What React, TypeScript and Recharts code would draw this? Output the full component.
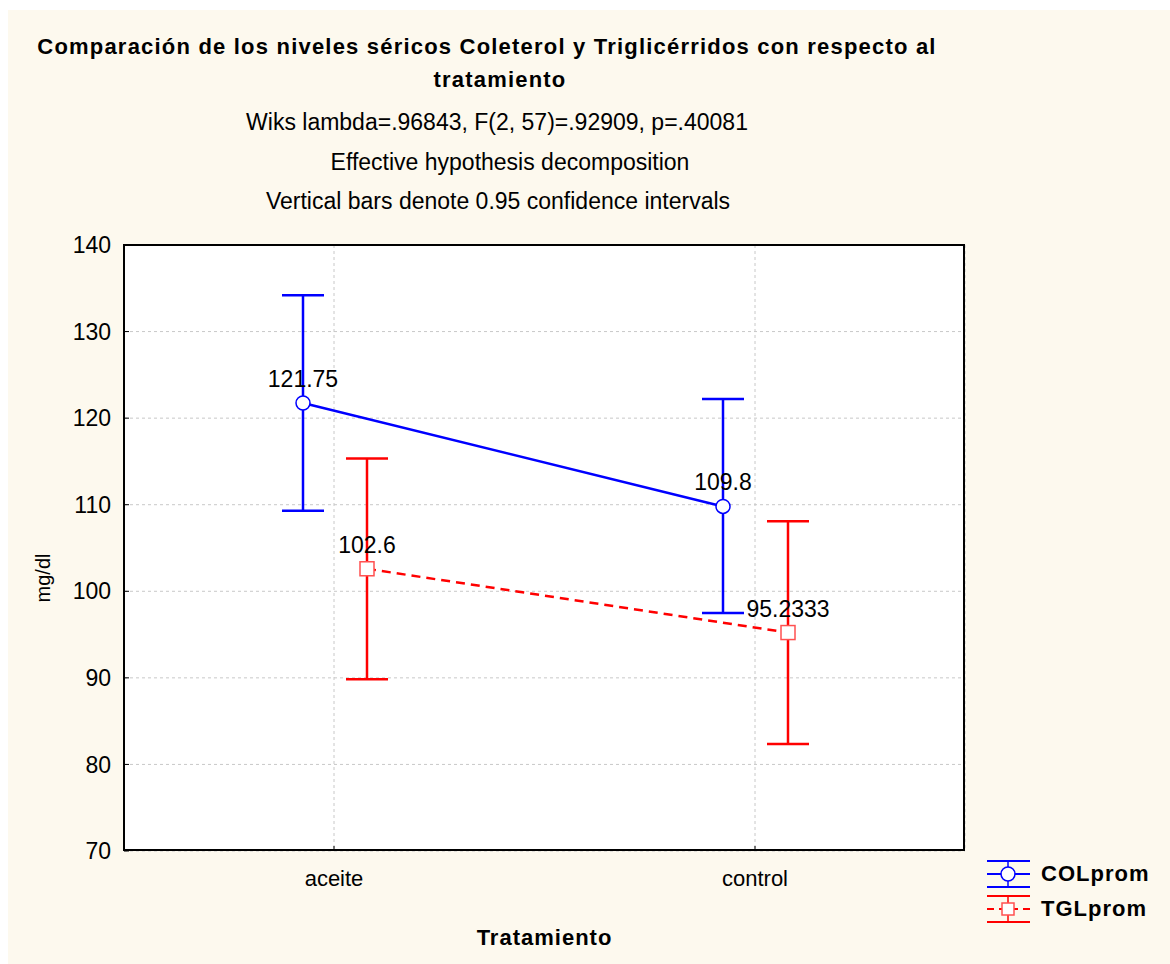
import React from 'react'
import {
  LineChart,
  Line,
  XAxis,
  YAxis,
  CartesianGrid,
  ErrorBar,
  LabelList,
} from 'recharts'

const categories = ['aceite', 'control']
const colMean = [121.75, 109.8]
const colLow = [109.3, 97.5]
const colHigh = [134.2, 122.2]
const tglMean = [102.6, 95.2333]
const tglLow = [89.85, 82.35]
const tglHigh = [115.35, 108.1]
const yTicks = [70, 80, 90, 100, 110, 120, 130, 140]

const FONT = '"Liberation Sans", Arial, sans-serif'
const BG = '#FDF9EE'
const BLUE = '#0000FF'
const RED = '#FF0000'

const chartData = categories.map((cat, i) => ({
  cat,
  col: colMean[i],
  colErr: [colMean[i] - colLow[i], colHigh[i] - colMean[i]],
  tgl: tglMean[i],
  tglErr: [tglMean[i] - tglLow[i], tglHigh[i] - tglMean[i]],
}))

// open circle marker
const CircleDot = (props: any) => {
  const { cx, cy } = props
  if (cx == null || cy == null) return null
  return <circle cx={cx} cy={cy} r={7} fill="#fff" stroke={BLUE} strokeWidth={1.5} />
}

// open square marker
const SquareDot = (props: any) => {
  const { cx, cy } = props
  if (cx == null || cy == null) return null
  return <rect x={cx - 7} y={cy - 7} width={14} height={14} fill="#fff" stroke="#FF5050" strokeWidth={1.5} />
}

// y tick: label on the left, short tick pointing into the plot
const YTick = (props: any) => {
  const { x, y, payload } = props
  return (
    <g>
      <line x1={x + 13} y1={y} x2={x + 18} y2={y} stroke="#000" strokeWidth={1} />
      <text x={x} y={y} dy="0.355em" textAnchor="end" fill="#000" fontSize={23} fontFamily={FONT}>
        {payload.value}
      </text>
    </g>
  )
}

// x tick: label below, short tick pointing up into the plot
const XTick = (props: any) => {
  const { x, y, payload } = props
  return (
    <g>
      <line x1={x} y1={y - 19} x2={x} y2={y - 24} stroke="#000" strokeWidth={1} />
      <text x={x} y={y} dy="0.71em" textAnchor="middle" fill="#000" fontSize={22} fontFamily={FONT}>
        {payload.value}
      </text>
    </g>
  )
}

const LegendBox = () => {
  const row = (color: string, dashed: boolean, square: boolean, label: string) => (
    <div style={{ display: 'flex', alignItems: 'center', height: 35 }}>
      <svg width={48} height={32} style={{ marginRight: 9 }}>
        <line x1={3} y1={3} x2={46} y2={3} stroke={color} strokeWidth={2} />
        <line x1={3} y1={29} x2={46} y2={29} stroke={color} strokeWidth={2} />
        <line x1={24} y1={3} x2={24} y2={29} stroke={color} strokeWidth={1.5} />
        <line x1={3} y1={16} x2={46} y2={16} stroke={color} strokeWidth={2} strokeDasharray={dashed ? '7 5' : undefined} />
        {square ? (
          <rect x={18} y={10} width={12} height={12} fill="#fff" stroke="#FF5050" strokeWidth={1.5} />
        ) : (
          <circle cx={24} cy={16} r={7} fill="#fff" stroke={color} strokeWidth={1.5} />
        )}
      </svg>
      <span style={{ fontFamily: FONT, fontWeight: 'bold', fontSize: 22, letterSpacing: 1 }}>{label}</span>
    </div>
  )
  return (
    <div style={{ position: 'absolute', left: 984, top: 856 }}>
      {row(BLUE, false, false, 'COLprom')}
      {row(RED, true, true, 'TGLprom')}
    </div>
  )
}

const textLine = (text: string, top: number, bold: boolean, size: number, spacing: number, center = 490) => (
  <div
    style={{
      position: 'absolute',
      top,
      left: center - 500,
      width: 1000,
      textAlign: 'center',
      fontFamily: FONT,
      fontWeight: bold ? 'bold' : 'normal',
      fontSize: size,
      lineHeight: '26px',
      letterSpacing: spacing,
      whiteSpace: 'nowrap',
      color: '#000',
    }}
  >
    {text}
  </div>
)

export default function App() {
  return (
    <div style={{ position: 'absolute', left: 0, top: 0, width: 1170, height: 964, background: '#fff' }}>
      <div style={{ position: 'absolute', left: 8, top: 10, width: 1162, height: 954, background: BG }} />
      {textLine('Comparación de los niveles séricos Coleterol y Triglicérridos con respecto al', 34, true, 22, 1.2, 487)}
      {textLine('tratamiento', 67, true, 22, 1.2, 500)}
      {textLine('Wiks lambda=.96843, F(2, 57)=.92909, p=.40081', 109, false, 23, 0, 497)}
      {textLine('Effective hypothesis decomposition', 149, false, 23, 0, 510)}
      {textLine('Vertical bars denote 0.95 confidence intervals', 188, false, 23, 0, 498)}
      <div
        style={{
          position: 'absolute',
          left: 43 - 40,
          top: 578 - 13,
          width: 80,
          height: 26,
          lineHeight: '26px',
          textAlign: 'center',
          transform: 'rotate(-90deg)',
          fontFamily: FONT,
          fontSize: 20,
          color: '#000',
        }}
      >
        mg/dl
      </div>
      <div style={{ position: 'absolute', left: 0, top: 0 }}>
        <LineChart
          width={1170}
          height={964}
          data={chartData}
          margin={{ top: 245, right: 205, left: 0, bottom: 0 }}
        >
          <CartesianGrid
            xAxisId="main"
            fill="#fff"
            stroke="#c8c8c8"
            strokeDasharray="3 3"
          />
          <XAxis
            xAxisId="main"
            dataKey="cat"
            type="category"
            scale="point"
            padding={{ left: 210, right: 210 }}
            height={113}
            axisLine={false}
            tickLine={false}
            tickSize={0}
            tickMargin={19}
            tick={<XTick />}
            label={{
              value: 'Tratamiento',
              position: 'insideBottom',
              offset: 19,
              fill: '#000',
              fontSize: 22,
              fontWeight: 'bold',
              fontFamily: FONT,
              letterSpacing: 1,
            }}
          />
          <XAxis xAxisId="col" dataKey="cat" type="category" scale="point" padding={{ left: 179, right: 242 }} height={0} hide />
          <XAxis xAxisId="tgl" dataKey="cat" type="category" scale="point" padding={{ left: 243, right: 177 }} height={0} hide />
          <YAxis
            domain={[70, 140]}
            ticks={yTicks}
            type="number"
            width={124}
            allowDataOverflow
            axisLine={false}
            tickLine={false}
            tickSize={0}
            tickMargin={13}
            tick={<YTick />}
          />
          <Line
            xAxisId="col"
            dataKey="col"
            stroke={BLUE}
            strokeWidth={2.5}
            dot={<CircleDot />}
            activeDot={false}
            isAnimationActive={false}
          >
            <ErrorBar dataKey="colErr" width={21} stroke={BLUE} strokeWidth={2.5} direction="y" isAnimationActive={false} />
            <LabelList dataKey="col" position="top" offset={16} fill="#000" fontSize={23} fontFamily={FONT} />
          </Line>
          <Line
            xAxisId="tgl"
            dataKey="tgl"
            stroke={RED}
            strokeWidth={2.5}
            strokeDasharray="9 6"
            dot={<SquareDot />}
            activeDot={false}
            isAnimationActive={false}
          >
            <ErrorBar dataKey="tglErr" width={21} stroke={RED} strokeWidth={2.5} direction="y" isAnimationActive={false} />
            <LabelList dataKey="tgl" position="top" offset={16} fill="#000" fontSize={23} fontFamily={FONT} />
          </Line>
        </LineChart>
      </div>
      {/* plot frame */}
      <div
        style={{
          position: 'absolute',
          left: 123,
          top: 244,
          width: 842,
          height: 607,
          border: '2px solid #000',
          boxSizing: 'border-box',
          pointerEvents: 'none',
        }}
      />
      <LegendBox />
    </div>
  )
}
